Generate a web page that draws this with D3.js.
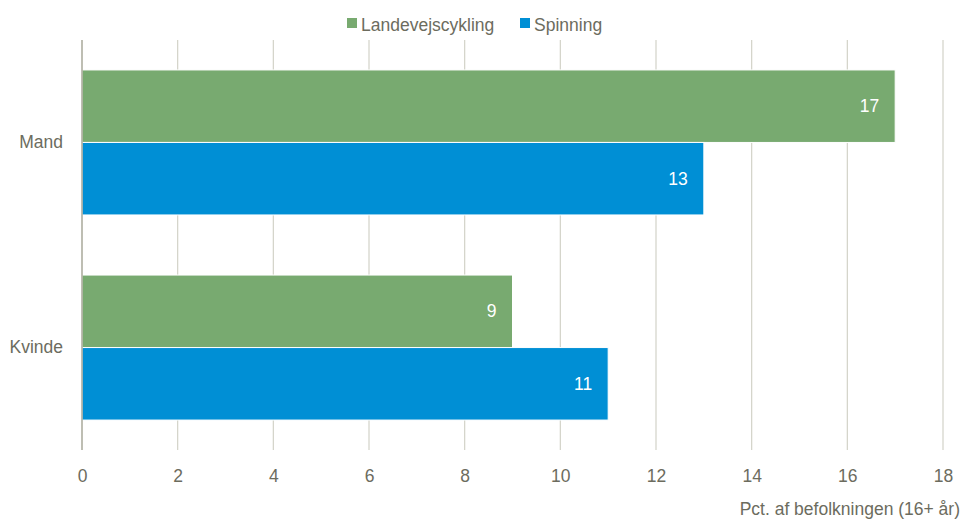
<!DOCTYPE html>
<html><head><meta charset="utf-8">
<script src="https://cdn.jsdelivr.net/npm/d3@7"></script>
<style>body{margin:0;background:#fff}svg{display:block;font-family:"Liberation Sans",Arial,sans-serif}</style>
</head><body><svg id="c" width="961" height="520"></svg>
<script>
const categories = ["Mand", "Kvinde"];
const seriesNames = ["Landevejscykling", "Spinning"];
const landevejscykling = [17, 9];
const spinning = [13, 11];
const xTicks = [0, 2, 4, 6, 8, 10, 12, 14, 16, 18];
const axisTitle = "Pct. af befolkningen (16+ år)";
const colors = ["#78aa70", "#008fd5"];

const svg = d3.select("#c");
const mLeft = 82, mRight = 943, mTop = 40, mBottom = 450;
const fs = 17.5;
const x = d3.scaleLinear().domain([0, 18]).range([mLeft, mRight]);
const y = d3.scaleBand().domain(categories).range([mTop, mBottom]).paddingInner(0.293).paddingOuter(0.146);
const y1 = d3.scaleBand().domain(seriesNames).range([0, y.bandwidth()]);
const textColor = "#6c6c5e";

// gridlines
svg.append("g").selectAll("line").data(xTicks.filter(d => d > 0)).join("line")
  .attr("x1", d => x(d)).attr("x2", d => x(d)).attr("y1", mTop).attr("y2", mBottom)
  .attr("stroke", "#d2d2c8").attr("stroke-width", 1.2);

const data = categories.map((c, i) => ({cat: c, vals: [landevejscykling[i], spinning[i]]}));
const g = svg.append("g");
data.forEach(d => {
  d.vals.forEach((v, j) => {
    const yy = y(d.cat) + y1(seriesNames[j]);
    g.append("rect").attr("x", x(0)).attr("y", yy).attr("width", x(v) - x(0)).attr("height", y1.bandwidth())
      .attr("fill", colors[j]).attr("stroke", "#ffffff").attr("stroke-width", 1);
    g.append("text").attr("x", x(v) - 16).attr("y", yy + y1.bandwidth() / 2).attr("dy", "0.35em")
      .attr("text-anchor", "end").attr("fill", "#fff").attr("font-size", fs).text(v);
  });
});

// left axis line
svg.append("line").attr("x1", x(0)).attr("x2", x(0)).attr("y1", mTop).attr("y2", mBottom)
  .attr("stroke", "#a9a99a").attr("stroke-width", 1.5);

// x axis labels
const xa = svg.append("g").attr("transform", `translate(0,${mBottom})`)
  .call(d3.axisBottom(x).tickValues(xTicks).tickSize(0).tickPadding(20));
xa.select(".domain").remove();
xa.selectAll("text").attr("font-size", fs).attr("fill", textColor).attr("font-family", "Liberation Sans, Arial, sans-serif");

// y category labels
const ya = svg.append("g").attr("transform", `translate(${mLeft},0)`)
  .call(d3.axisLeft(y).tickSize(0).tickPadding(19));
ya.select(".domain").remove();
ya.selectAll("text").attr("font-size", fs).attr("fill", textColor).attr("font-family", "Liberation Sans, Arial, sans-serif");

// axis title
svg.append("text").attr("x", 960).attr("y", 515).attr("text-anchor", "end")
  .attr("font-size", fs).attr("fill", textColor).text(axisTitle);

// legend
const legendX = [347, 520];
seriesNames.forEach((s, j) => {
  svg.append("rect").attr("x", legendX[j]).attr("y", 18).attr("width", 10).attr("height", 10).attr("fill", colors[j]);
  svg.append("text").attr("x", legendX[j] + 14).attr("y", 24.5).attr("dy", "0.35em")
    .attr("font-size", fs).attr("fill", textColor).text(s);
});
</script></body></html>
